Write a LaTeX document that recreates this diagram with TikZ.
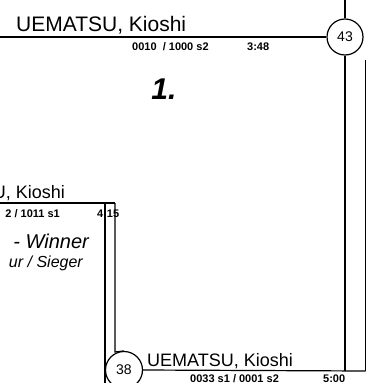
\documentclass[tikz,border=0pt]{standalone}
\usepackage{fontspec}
\setmainfont{Liberation Sans}
\begin{document}
\begin{tikzpicture}[x=1pt,y=-1pt,
  wire/.style={line width=1.2pt,black},
  bout/.style={circle,draw,line width=1.2pt,inner sep=0pt,font=\fontsize{14}{16}\selectfont},
  namebig/.style={inner sep=0pt,font=\fontsize{21}{24}\selectfont},
  namemid/.style={inner sep=0pt,font=\fontsize{18}{21}\selectfont},
  info/.style={inner sep=0pt,font=\fontsize{11}{13}\selectfont\bfseries},
  rank/.style={inner sep=0pt,font=\fontsize{30}{34}\selectfont\itshape\bfseries}]
\useasboundingbox (0,0) rectangle (367,383);
% bout circles
\node[bout,minimum size=36pt] (c43) at (345,37) {43};
\node[bout,minimum size=37pt] (c38) at (124,370) {38};
% coordinates
\coordinate (topleft) at (0,37);
\coordinate (topup) at (345,0);
\coordinate (rin) at (345,371);
\coordinate (routtop) at (365.5,60);
\coordinate (routbot) at (365.5,371);
\coordinate (lleft) at (0,203);
\coordinate (lboxA) at (105,203);
\coordinate (lboxB) at (115,203);
\coordinate (loutbot) at (105,383);
\coordinate (linbot) at (115,352);
% wires
\draw[wire] (topleft) -- (c43.west);
\draw[wire] (c43.north) -- (topup);
\draw[wire] (c43.south) -- (rin);
\draw[wire] (routtop) -- (routbot);
\draw[wire] (c38.east) -- (routbot);
\draw[wire] (lleft) -- (lboxB);
\draw[wire] (lboxA) -- (loutbot);
\draw[wire] (lboxB) -- (linbot) -- (c38.north);
% texts
\node[namebig,anchor=base west] (n1) at (16,31) {UEMATSU, Kioshi};
\node[info,anchor=base west] (i1) at (132,50) {0010 \ / 1000 s2};
\node[info,anchor=base west] (t1) at (247,50) {3:48};
\node[rank] (r1) at (164,89) {1.};
\node[namemid,anchor=base east] (n2) at (65,198) {U, Kioshi};
\node[info,anchor=base east] (i2) at (60,217) {2 / 1011 s1};
\node[info,anchor=base west] (t2) at (97,217) {4:15};
\node[inner sep=0pt,anchor=base east,font=\fontsize{20}{24}\selectfont\itshape] (w1) at (89,248) {- Winner};
\node[inner sep=0pt,anchor=base east,font=\fontsize{16}{19}\selectfont\itshape] (w2) at (83,267) {ur / Sieger};
\node[namemid,anchor=base west] (n3) at (147,366) {UEMATSU, Kioshi};
\node[info,anchor=base west] (i3) at (190,382) {0033 s1 / 0001 s2};
\node[info,anchor=base west] (t3) at (323,382) {5:00};
\end{tikzpicture}
\end{document}
